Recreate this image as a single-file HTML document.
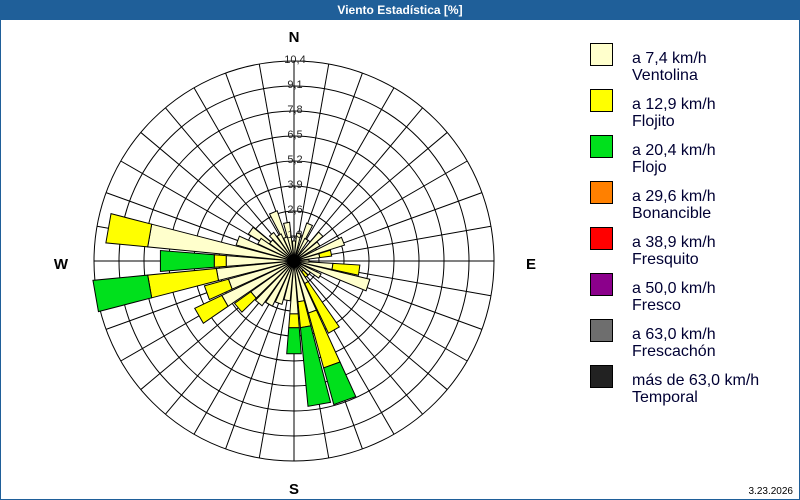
<!DOCTYPE html>
<html><head><meta charset="utf-8"><style>
body{margin:0;width:800px;height:500px;overflow:hidden;background:#fff;font-family:"Liberation Sans",sans-serif}
#wrap{position:absolute;left:0;top:0;width:798px;height:498px;border:1px solid #1f5f99;background:#fff}
#title{position:absolute;left:0;top:0;width:800px;height:20px;background:#1f5f99;color:#fff;font-size:12px;font-weight:bold;text-align:center;line-height:20px}
</style></head><body>
<div id="wrap"></div>
<div id="title">Viento Estadística [%]</div>
<svg id="s" width="800" height="500" style="position:absolute;left:0;top:0" font-family="Liberation Sans, sans-serif"></svg>
<script>
var s=document.getElementById('s'),cx=294,cy=261,R=200,h='';
function P(r,a){var t=a*Math.PI/180;return [cx+r*Math.sin(t),cy-r*Math.cos(t)];}
// bars: bearing, [cream, yellow, green] cumulative radii
var bars=[[280,[147,189]],[270,[68,80,134]],[260,[78,147,202]],[250,[68,93]],[240,[80,110]],[230,[53,73]],
[180,[53,67,93]],[170,[41,67,146]],[160,[54,111,149]],[150,[25,80]],[140,[13,20]],[108,[78]],[98,[39,66]],[78,[26,38]],
[68,[53]],[45,[38]],[23,[40]],[349,[39]],[337,[53]],[305,[53]],[10,[28]],[0,[20]],[30,[25]],[55,[30]],[90,[15]],[120,[30]],
[130,[20]],[190,[40]],[200,[45]],[210,[50]],[220,[55]],[290,[60]],[300,[40]],[310,[30]],[320,[35]],[330,[30]],[340,[25]]];
var cols=['#ffffcc','#ffff00','#00e01c'];
// grid
for(var i=1;i<=8;i++)h+='<circle cx="'+cx+'" cy="'+cy+'" r="'+(i*25)+'" fill="none" stroke="#000" stroke-width="1"/>';
for(var a=0;a<360;a+=10){var p=P(R,a);h+='<line x1="'+cx+'" y1="'+cy+'" x2="'+p[0]+'" y2="'+p[1]+'" stroke="#000" stroke-width="1"/>';}
bars.forEach(function(b){var prev=0;b[1].forEach(function(r,k){var w=4.5,
a1=P(prev,b[0]-w),a2=P(r,b[0]-w),a3=P(r,b[0]+w),a4=P(prev,b[0]+w);
h+='<polygon points="'+[a1,a2,a3,a4].map(function(q){return q.join(',')}).join(' ')+'" fill="'+cols[k]+'" stroke="#000" stroke-width="1"/>';prev=r;});});
h+='<circle cx="'+cx+'" cy="'+cy+'" r="6" fill="#000"/>';
var labs=['1,3','2,6','3,9','5,2','6,5','7,8','9,1','10,4'];
labs.forEach(function(l,i){h+='<text x="'+(cx+1)+'" y="'+(cy-(i+1)*25+2)+'" font-size="11" text-anchor="middle" fill="#222">'+l+'</text>';});
h+='<text x="'+cx+'" y="42" font-size="15" font-weight="bold" text-anchor="middle">N</text>';
h+='<text x="'+cx+'" y="494" font-size="15" font-weight="bold" text-anchor="middle">S</text>';
h+='<text x="61" y="269" font-size="15" font-weight="bold" text-anchor="middle">W</text>';
h+='<text x="531" y="269" font-size="15" font-weight="bold" text-anchor="middle">E</text>';
var leg=[['#ffffcc','a 7,4 km/h','Ventolina'],['#ffff00','a 12,9 km/h','Flojito'],['#00e01c','a 20,4 km/h','Flojo'],['#ff8000','a 29,6 km/h','Bonancible'],['#ff0000','a 38,9 km/h','Fresquito'],['#8b008b','a 50,0 km/h','Fresco'],['#6e6e6e','a 63,0 km/h','Frescachón'],['#222222','más de 63,0 km/h','Temporal']];
leg.forEach(function(l,i){var y=43+i*46;h+='<rect x="590.5" y="'+(y+0.5)+'" width="22" height="22" fill="'+l[0]+'" stroke="#000"/>';
h+='<text x="632" y="'+(y+20)+'" font-size="16" fill="#000033">'+l[1]+'</text><text x="632" y="'+(y+37)+'" font-size="16" fill="#000033">'+l[2]+'</text>';});
h+='<text x="793" y="494" font-size="10" text-anchor="end">3.23.2026</text>';
s.innerHTML=h;
</script>
</body></html>
